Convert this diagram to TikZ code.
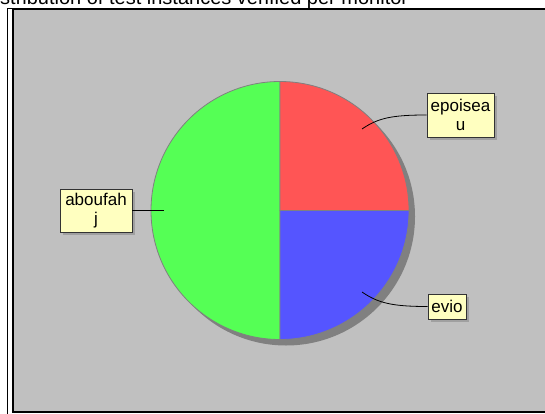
\documentclass[tikz,border=0pt]{standalone}
\usepackage{fontspec}
\setmainfont{Liberation Sans}
\usetikzlibrary{shadows}
\definecolor{bg}{RGB}{192,192,192}
\definecolor{pred}{RGB}{255,85,85}
\definecolor{pgreen}{RGB}{85,255,85}
\definecolor{pblue}{RGB}{85,85,255}
\definecolor{lblfill}{RGB}{255,255,192}
\definecolor{pieshade}{RGB}{128,128,128}
\definecolor{lblshadow}{RGB}{160,160,160}
\begin{document}
\begin{tikzpicture}[x=1pt,y=-1pt,
  lbl/.style={draw=black!80, fill=lblfill, line width=0.8pt,
    font=\fontsize{17}{18.5}\selectfont, align=center, inner sep=0pt,
    drop shadow={fill=lblshadow, opacity=1, shadow xshift=3pt, shadow yshift=-3pt}},
  slice/.style={draw=pieshade, line width=0.8pt},
  conn/.style={draw=black, line width=0.8pt},
  titlefont/.style={font=\fontsize{20}{24}\selectfont}]
\useasboundingbox (0,0) rectangle (545,414);
\fill[white] (0,0) rectangle (545,414);
% frames
\draw[line width=1pt] (7,420) -- (7,9) -- (560,9);
\draw[fill=bg, line width=1.4pt] (13,9) rectangle (560,412);
% pie
\coordinate (c) at (280,210.5);
\fill[pieshade] (286,216.5) circle[radius=129];
\path[slice, fill=pgreen] (c) -- +(90:129) arc[start angle=90, end angle=270, radius=129] -- cycle;
\path[slice, fill=pred] (c) -- +(270:129) arc[start angle=270, end angle=360, radius=129] -- cycle;
\path[slice, fill=pblue] (c) -- +(0:129) arc[start angle=0, end angle=90, radius=129] -- cycle;
% labels
\node[lbl, minimum width=67pt, minimum height=44pt] (ep) at (460.5,115) {epoisea\\u};
\node[lbl, minimum width=38pt, minimum height=25pt] (ev) at (447,306.5) {evio};
\node[lbl, minimum width=72pt, minimum height=43pt] (ab) at (96,210.5) {aboufah\\j};
\coordinate (epA) at (362,129);
\coordinate (evA) at (362,292);
\coordinate (abA) at (164,210.5);
\draw[conn] (epA) .. controls (378,118) and (392,115) .. (ep.west);
\draw[conn] (evA) .. controls (378,303) and (392,306.5) .. (ev.west);
\draw[conn] (ab.east) -- (abA);
% title
\node[titlefont, anchor=base west, inner sep=0pt] (title) at (0,5) {\llap{Di}stribution of test instances verified per monitor};
\end{tikzpicture}
\end{document}
